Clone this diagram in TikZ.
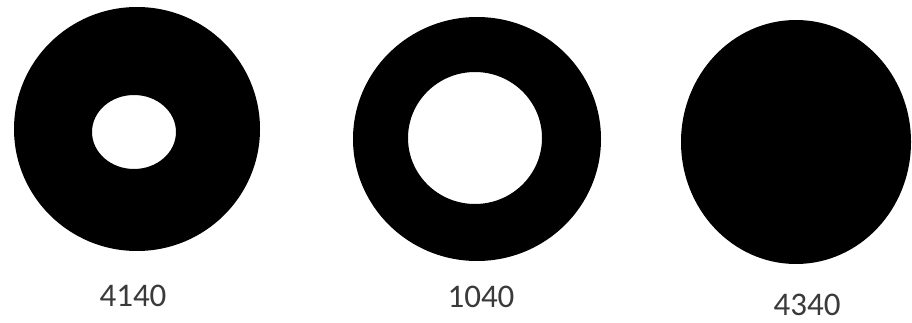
\documentclass[tikz,border=0pt]{standalone}
\usepackage{fontspec}
\setmainfont{Carlito}
\definecolor{labelgray}{HTML}{3A3A3A}
\begin{document}
\begin{tikzpicture}[x=1pt,y=-1pt,
  disc/.style={fill=black,even odd rule},
  lbl/.style={text=labelgray,font=\fontsize{33}{36}\selectfont,inner sep=0pt,anchor=center}]
\useasboundingbox (0,0) rectangle (912,323);
\fill[white] (0,0) rectangle (912,323);
% ring 1
\path[disc] (137,129) ellipse [x radius=123, y radius=122]
            (134,132) ellipse [x radius=42, y radius=37];
% ring 2
\path[disc] (477,139) ellipse [x radius=124, y radius=122]
            (475,138) ellipse [x radius=67, y radius=66];
% disc 3
\path[disc] (796,142) ellipse [x radius=115, y radius=122];
\node[lbl] (l1) at (133,296) {4140};
\node[lbl] (l2) at (481,297) {1040};
\node[lbl] (l3) at (807,305) {4340};
\end{tikzpicture}
\end{document}
